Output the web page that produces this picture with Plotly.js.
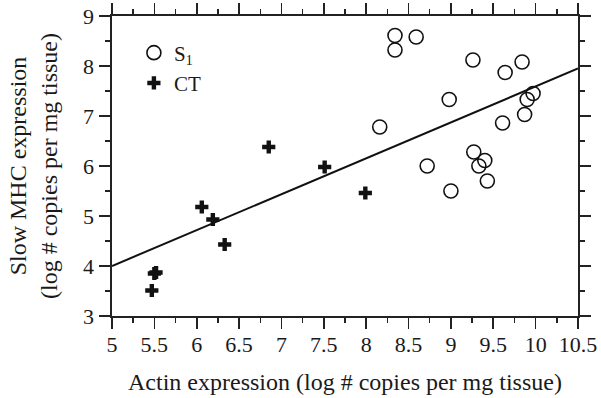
<!DOCTYPE html>
<html>
<head>
<meta charset="utf-8">
<script src="https://cdn.plot.ly/plotly-3.0.1.min.js"></script>
<style>html,body{margin:0;padding:0;background:#fff;}#chart{width:601px;height:398px;}</style>
</head>
<body>
<div id="chart"></div>
<script>
// S1 group (open circles)
const s1X = [8.34, 8.34, 8.59, 8.16, 8.98, 8.72, 9.00, 9.26, 9.64, 9.84, 9.61, 9.97, 9.90, 9.87, 9.27, 9.40, 9.33, 9.43];
const s1Y = [8.61, 8.32, 8.58, 6.78, 7.33, 6.00, 5.50, 8.12, 7.87, 8.08, 6.86, 7.45, 7.33, 7.03, 6.28, 6.11, 6.00, 5.70];
// CT group (crosses)
const ctX = [5.50, 5.52, 5.47, 6.06, 6.19, 6.33, 6.85, 7.51, 7.99];
const ctY = [3.85, 3.87, 3.51, 5.18, 4.93, 4.43, 6.38, 5.98, 5.46];
// Regression line end points
const fitX = [5.0, 10.5];
const fitY = [4.0, 7.95];

const fam = 'Liberation Serif, Times New Roman, serif';
const tickFont = {family: fam, size: 22, color: '#1a1a1a'};
const titleFont = {family: fam, size: 24, color: '#1a1a1a'};

const traces = [
  {x: fitX, y: fitY, mode: 'lines', line: {color: '#111', width: 2}, showlegend: false, hoverinfo: 'skip'},
  {x: s1X, y: s1Y, mode: 'markers', name: 'S<sub>1</sub>', legendgroup: 'a',
   marker: {symbol: 'circle-open', size: 14, color: '#111', line: {width: 1.6, color: '#111'}}},
  {x: ctX, y: ctY, mode: 'markers', name: 'CT', legendgroup: 'b',
   marker: {symbol: 'cross', size: 11, color: '#111', line: {width: 0}}}
];

const axisCommon = {
  showgrid: false, zeroline: false, showline: true, linecolor: '#222', linewidth: 1.6,
  mirror: 'ticks', ticks: 'outside', ticklen: 11, tickwidth: 1.6, tickcolor: '#222',
  tickfont: tickFont, automargin: false
};

const layout = {
  width: 601, height: 398,
  margin: {l: 112, r: 23, t: 16, b: 82},
  paper_bgcolor: '#fff', plot_bgcolor: '#fff',
  font: tickFont,
  showlegend: true,
  legend: {x: 0.047, y: 0.945, xanchor: 'left', yanchor: 'top', bgcolor: 'rgba(0,0,0,0)',
           font: {family: fam, size: 21, color: '#1a1a1a'}, tracegroupgap: 0, traceorder: 'grouped'},
  xaxis: Object.assign({}, axisCommon, {
    range: [5, 10.5], tick0: 5, dtick: 0.5, tickmode: 'linear',
    ticklabelstandoff: -3,
    minor: {dtick: 0.25, ticks: 'outside', ticklen: 5, tickwidth: 1.4, tickcolor: '#222'},
    title: {text: 'Actin expression (log # copies per mg tissue)', font: titleFont, standoff: 17}
  }),
  yaxis: Object.assign({}, axisCommon, {
    range: [3, 9], tick0: 3, dtick: 1, tickmode: 'linear',
    ticklabelstandoff: 1,
    minor: {dtick: 0.5, ticks: 'outside', ticklen: 5, tickwidth: 1.4, tickcolor: '#222'},
    title: {text: 'Slow MHC expression<br>(log # copies per mg tissue)', font: titleFont, standoff: 18}
  })
};

Plotly.newPlot('chart', traces, layout, {displayModeBar: false, staticPlot: true});
</script>
</body>
</html>
